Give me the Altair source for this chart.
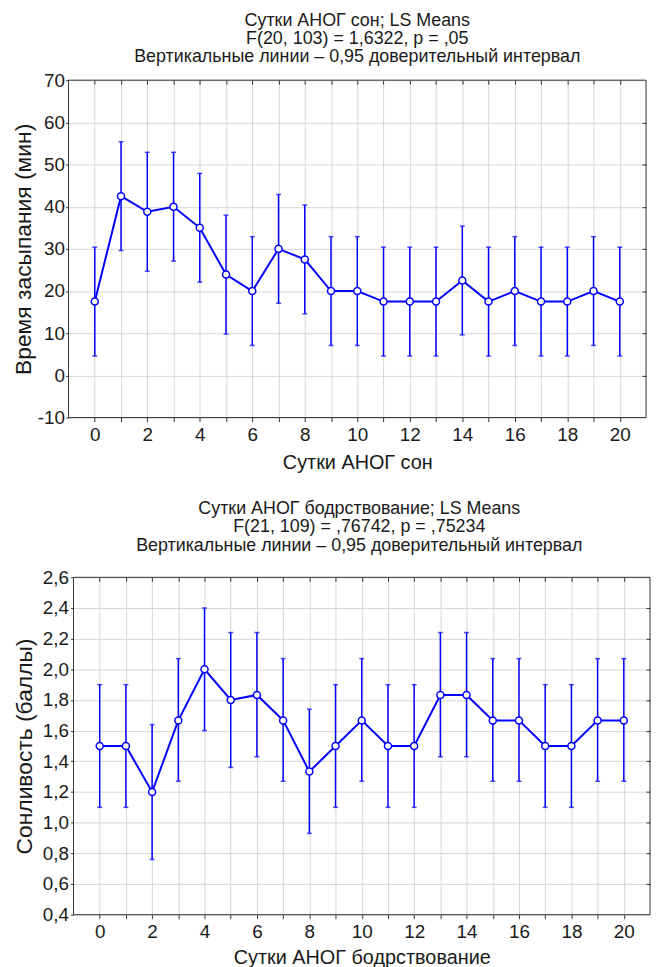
import altair as alt
import pandas as pd

# ---------------- data ----------------
days = list(range(21))
x_domain = [-1, 21]

sleep_mean = [17.5, 42.5, 38.8, 40.0, 35.0, 23.9, 20.0, 30.0, 27.5, 20.0, 20.0,
              17.5, 17.5, 17.5, 22.5, 17.5, 20.0, 17.5, 17.5, 20.0, 17.5]
sleep_lo = [4.6, 29.6, 24.7, 27.1, 22.1, 9.8, 7.1, 17.1, 14.6, 7.1, 7.1,
            4.6, 4.6, 4.6, 9.6, 4.6, 7.1, 4.6, 4.6, 7.1, 4.6]
sleep_hi = [30.4, 55.4, 52.9, 52.9, 47.9, 38.0, 32.9, 42.9, 40.4, 32.9, 32.9,
            30.4, 30.4, 30.4, 35.4, 30.4, 32.9, 30.4, 30.4, 32.9, 30.4]
sleep_yticks = [-10, 0, 10, 20, 30, 40, 50, 60, 70]

drowsy_mean = [1.5, 1.5, 1.2, 1.667, 2.0, 1.8, 1.833, 1.667, 1.333, 1.5, 1.667,
               1.5, 1.5, 1.833, 1.833, 1.667, 1.667, 1.5, 1.5, 1.667, 1.667]
drowsy_lo = [1.10, 1.10, 0.76, 1.27, 1.60, 1.36, 1.43, 1.27, 0.93, 1.10, 1.27,
             1.10, 1.10, 1.43, 1.43, 1.27, 1.27, 1.10, 1.10, 1.27, 1.27]
drowsy_hi = [1.90, 1.90, 1.64, 2.07, 2.40, 2.24, 2.24, 2.07, 1.74, 1.90, 2.07,
             1.90, 1.90, 2.24, 2.24, 2.07, 2.07, 1.90, 1.90, 2.07, 2.07]
drowsy_yticks = [0.4, 0.6, 0.8, 1.0, 1.2, 1.4, 1.6, 1.8, 2.0, 2.2, 2.4, 2.6]

sleep_title = ["Сутки АНОГ сон; LS Means",
               "F(20, 103) = 1,6322, p = ,05",
               "Вертикальные линии – 0,95 доверительный интервал"]
drowsy_title = ["Сутки АНОГ бодрствование; LS Means",
                "F(21, 109) = ,76742, p = ,75234",
                "Вертикальные линии – 0,95 доверительный интервал"]

FONT = "Liberation Sans"
BLUE = "#0000ff"
GRID = "#d6d6d6"
DARK = "#333333"


def panel(mean, lo, hi, yticks, ytitle, xtitle, title, width, height,
          ylabel_expr, ylabel_pad, ytitle_pad, title_offset, inset, xtitle_pad):
    df = pd.DataFrame({"day": days, "mean": mean, "lo": lo, "hi": hi})
    xscale = alt.Scale(domain=x_domain, nice=False, zero=False, range=[inset, width])
    yscale = alt.Scale(domain=[yticks[0], yticks[-1]], nice=False, zero=False)

    xaxis = alt.Axis(values=days, labelExpr="datum.value % 2 == 0 ? datum.label : ''",
                     grid=True, tickSize=4, labelPadding=4, title=xtitle,
                     titlePadding=xtitle_pad, labelFlush=False, titleFontSize=20,
                     domain=False)
    yaxis = alt.Axis(values=yticks, labelExpr=ylabel_expr, grid=True, tickSize=3,
                     labelPadding=ylabel_pad, title=ytitle, titlePadding=ytitle_pad,
                     titleFontSize=23, labelFlush=False, domain=False,
                     offset=-inset)

    base = alt.Chart(df)
    frame = alt.Chart(pd.DataFrame({"k": [0]})).mark_rect(
        filled=False, stroke=DARK, strokeWidth=1
    ).encode(
        x=alt.XDatum(x_domain[0], type="quantitative", scale=xscale, axis=None),
        x2=alt.X2Datum(x_domain[1]),
        y=alt.YDatum(yticks[0], type="quantitative", scale=yscale, axis=None),
        y2=alt.Y2Datum(yticks[-1]),
    )
    err = base.mark_rule(color=BLUE, strokeWidth=1.5).encode(
        x=alt.X("day:Q", scale=xscale, axis=xaxis),
        y=alt.Y("lo:Q", scale=yscale, axis=yaxis),
        y2="hi:Q",
    )
    cap_lo = base.mark_tick(color=BLUE, orient="horizontal", size=5, thickness=1.5).encode(
        x=alt.X("day:Q", scale=xscale, axis=None),
        y=alt.Y("lo:Q", scale=yscale, axis=None),
    )
    cap_hi = base.mark_tick(color=BLUE, orient="horizontal", size=5, thickness=1.5).encode(
        x=alt.X("day:Q", scale=xscale, axis=None),
        y=alt.Y("hi:Q", scale=yscale, axis=None),
    )
    line = base.mark_line(color=BLUE, strokeWidth=2).encode(
        x=alt.X("day:Q", scale=xscale, axis=None),
        y=alt.Y("mean:Q", scale=yscale, axis=None),
    )
    pts = base.mark_point(filled=True, fill="white", stroke=BLUE, strokeWidth=1.5,
                          size=50, opacity=1).encode(
        x=alt.X("day:Q", scale=xscale, axis=None),
        y=alt.Y("mean:Q", scale=yscale, axis=None),
    )
    mirror = base.mark_point(opacity=0).encode(
        x=alt.X("day:Q", scale=xscale,
                axis=alt.Axis(orient="top", values=days, labels=False, domain=False,
                              grid=False, tickSize=4, offset=-4, title=None)),
        y=alt.Y("mean:Q", scale=yscale,
                axis=alt.Axis(orient="right", values=yticks[1:-1], labels=False,
                              domain=False, grid=False, tickSize=4, offset=-4,
                              title=None)),
    )
    return alt.layer(err, cap_lo, cap_hi, line, pts, mirror, frame).resolve_axis(
        x="independent", y="independent"
    ).properties(
        width=width, height=height,
        title=alt.TitleParams(text=title, offset=title_offset),
    )


top = panel(sleep_mean, sleep_lo, sleep_hi, sleep_yticks, "Время засыпания (мин)",
            "Сутки АНОГ сон", sleep_title, 582, 340,
            "replace(datum.label, '\u2212', '-')", 1, 2, 5, 0, 8)
bottom = panel(drowsy_mean, drowsy_lo, drowsy_hi, drowsy_yticks, "Сонливость (баллы)",
               "Сутки АНОГ бодрствование", drowsy_title, 586, 340,
               "replace(format(datum.value, '.1f'), '.', ',')", 2, 6, 14, 5, 6)

chart = alt.concat(top, bottom, columns=1, spacing=28).properties(
    padding={"left": 4, "top": 0, "right": 0, "bottom": 0}
).configure_view(
    stroke=None
).configure_axis(
    labelFont=FONT, titleFont=FONT, labelFontSize=19,
    labelColor="#1a1a1a", titleColor="#1a1a1a", titleFontWeight="normal",
    gridColor=GRID, gridWidth=1, domainColor=DARK, tickColor=DARK,
).configure_title(
    font=FONT, fontSize=18, fontWeight="normal", lineHeight=18.5,
    anchor="middle", frame="group", color="#1a1a1a",
)

chart.save("out.html", embed_options={"renderer": "svg", "actions": False})
